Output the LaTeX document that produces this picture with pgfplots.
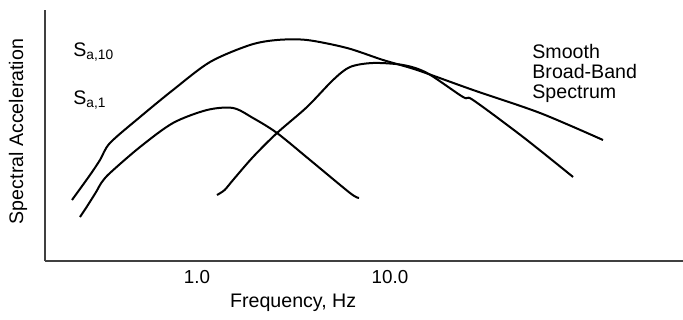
\documentclass[border=0pt]{standalone}
\usepackage{fontspec}
\setmainfont{Liberation Sans}
\usepackage{pgfplots}
\pgfplotsset{compat=1.18}
\begin{document}
\begin{tikzpicture}
\useasboundingbox (-22.5pt,-29.5pt) rectangle (319pt,130.5pt);
\begin{axis}[
  scale only axis, width=319pt, height=125.5pt,
  xmode=log, xmin=0.1631, xmax=329.6, ymin=0, ymax=251,
  axis lines=left, axis line style={-, line width=0.8pt, black!75},
  xtick={1,10}, xticklabels={1.0,10.0}, ytick=\empty,
  minor xtick={}, major tick length=0pt, minor tick length=0pt,
  xticklabel style={anchor=center, yshift=-8pt, font=\fontsize{9.4}{11}\selectfont},
  /pgf/number format/assume math mode=true,
  xlabel={Frequency, Hz}, ylabel={Spectral Acceleration},
  label style={font=\fontsize{9.8}{11}\selectfont},
  xlabel style={at={(axis description cs:0.389,0)}, anchor=center, yshift=-21pt},
  ylabel style={at={(axis description cs:-0.0423,0.516)}, anchor=center},
  clip=false,
]
% Smooth broad-band spectrum
\addplot[black, line width=1pt, smooth, tension=0.5] coordinates {
(0.2250,61) (0.2790,86) (0.3143,101) (0.3541,118) (0.5067,144) (0.7510,171)
(1.168,199) (1.882,216) (2.597,221) (3.715,221) (5.987,213) (9.200,201)
(13.80,191) (26.92,171) (59.89,148) (126.9,121)};
% S_a,1
\addplot[black, line width=1pt, smooth, tension=0.5] coordinates {
(0.2475,44) (0.2660,53) (0.3000,69) (0.3190,78) (0.3541,88) (0.5067,114)
(0.7510,138) (1.127,151) (1.537,153) (1.950,143) (2.597,128) (3.851,101)
(6.206,68) (6.910,63)};
% S_a,10
\addplot[black, line width=1pt, smooth, tension=0.5] coordinates {
(1.269,66) (1.390,71) (1.537,81) (1.950,104) (2.597,128) (3.715,154)
(5.067,181) (6.206,194) (8.165,198) (11.68,196) (15.55,188) (23.89,164)
(26.92,161) (48.89,124) (88.8,84)};
\node[anchor=west, font=\fontsize{9.8}{11}\selectfont, inner sep=0pt] at (axis cs:0.2278,209) {S\textsubscript{a,10}};
\node[anchor=west, font=\fontsize{9.8}{11}\selectfont, inner sep=0pt] at (axis cs:0.2278,161) {S\textsubscript{a,1}};
\node[anchor=west, align=left, font=\fontsize{9.8}{10}\selectfont, inner sep=0pt] at (axis cs:54.4,188) {Smooth\\Broad-Band\\Spectrum};
\end{axis}
\end{tikzpicture}
\end{document}
